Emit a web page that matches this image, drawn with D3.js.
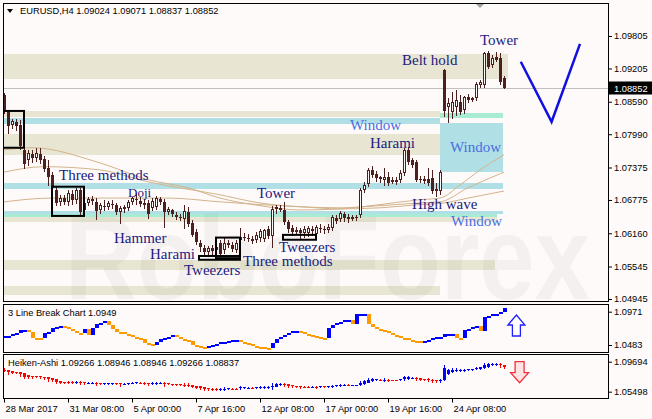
<!DOCTYPE html>
<html>
<head>
<meta charset="utf-8">
<script src="https://cdn.jsdelivr.net/npm/d3@7"></script>
<style>
html, body { margin: 0; padding: 0; background: #fffafa; }
svg { display: block; }
</style>
</head>
<body>
<svg id="chart" width="652" height="419"></svg>
<script>
// EURUSD H4, 28 Mar 2017 16:00 .. 26 Apr 2017 12:00
var opens = [1.0872,1.0840,1.0816,1.0822,1.0816,1.0770,1.0752,1.0763,1.0755,1.0763,
  1.0753,1.0737,1.0724,1.0696,1.0674,1.0681,1.0674,1.0689,1.0678,1.0696,
  1.0659,1.0672,1.0680,1.0674,1.0659,1.0667,1.0665,1.0670,1.0669,1.0656,
  1.0661,1.0663,1.0674,1.0680,1.0676,1.0670,1.0672,1.0663,1.0665,1.0680,
  1.0674,1.0656,1.0659,1.0650,1.0646,1.0643,1.0656,1.0635,1.0619,1.0598,
  1.0589,1.0582,1.0589,1.0585,1.0598,1.0585,1.0598,1.0595,1.0585,1.0604,
  1.0609,1.0608,1.0606,1.0604,1.0608,1.0606,1.0624,1.0611,1.0661,1.0663,
  1.0659,1.0637,1.0626,1.0621,1.0622,1.0617,1.0617,1.0624,1.0615,1.0626,
  1.0624,1.0622,1.0626,1.0645,1.0643,1.0652,1.0646,1.0645,1.0646,1.0650,
  1.0696,1.0707,1.0733,1.0726,1.0717,1.0715,1.0720,1.0713,1.0713,1.0715,
  1.0728,1.0770,1.0752,1.0748,1.0717,1.0715,1.0717,1.0718,1.0698,1.0694,
  1.0918,1.0849,1.0840,1.0849,1.0859,1.0844,1.0868,1.0862,1.0866,1.0890,
  1.0890,1.0949,1.0927,1.0942,1.0940,1.09024];
var highs = [1.0875,1.0842,1.0827,1.0827,1.0825,1.0774,1.0770,1.0770,1.0774,1.0774,
  1.0759,1.0752,1.0729,1.0702,1.0687,1.0687,1.0696,1.0696,1.0700,1.0700,
  1.0678,1.0683,1.0685,1.0681,1.0672,1.0678,1.0676,1.0678,1.0672,1.0667,
  1.0669,1.0678,1.0683,1.0689,1.0683,1.0680,1.0678,1.0681,1.0685,1.0683,
  1.0680,1.0665,1.0661,1.0656,1.0652,1.0669,1.0665,1.0641,1.0624,1.0604,
  1.0595,1.0593,1.0595,1.0597,1.0604,1.0609,1.0604,1.0600,1.0604,1.0626,
  1.0617,1.0615,1.0611,1.0619,1.0624,1.0624,1.0630,1.0667,1.0669,1.0669,
  1.0674,1.0641,1.0632,1.0628,1.0626,1.0630,1.0630,1.0630,1.0632,1.0633,
  1.0630,1.0633,1.0650,1.0650,1.0657,1.0656,1.0652,1.0650,1.0650,1.0700,
  1.0711,1.0737,1.0741,1.0731,1.0722,1.0737,1.0729,1.0720,1.0720,1.0733,
  1.0774,1.0776,1.0755,1.0752,1.0722,1.0722,1.0737,1.0733,1.0709,1.0733,
  1.0920,1.0866,1.0877,1.0881,1.0872,1.0870,1.0873,1.0868,1.0896,1.0899,
  1.0951,1.0953,1.0945,1.0951,1.0949,1.09071];
var lows = [1.0838,1.0801,1.0811,1.0807,1.0772,1.0737,1.0742,1.0748,1.0750,1.0746,
  1.0731,1.0705,1.0696,1.0669,1.0669,1.0670,1.0669,1.0670,1.0672,1.0652,
  1.0654,1.0669,1.0670,1.0643,1.0654,1.0659,1.0661,1.0663,1.0652,1.0635,
  1.0656,1.0659,1.0670,1.0670,1.0667,1.0663,1.0645,1.0659,1.0661,1.0670,
  1.0628,1.0652,1.0648,1.0643,1.0641,1.0626,1.0630,1.0611,1.0597,1.0584,
  1.0578,1.0574,1.0578,1.0576,1.0574,1.0580,1.0591,1.0584,1.0582,1.0600,
  1.0604,1.0602,1.0598,1.0600,1.0602,1.0602,1.0608,1.0591,1.0654,1.0657,
  1.0633,1.0619,1.0613,1.0615,1.0608,1.0609,1.0611,1.0613,1.0608,1.0619,
  1.0617,1.0619,1.0622,1.0635,1.0639,1.0639,1.0637,1.0641,1.0641,1.0646,
  1.0693,1.0704,1.0720,1.0713,1.0711,1.0705,1.0705,1.0709,1.0707,1.0711,
  1.0724,1.0744,1.0739,1.0713,1.0711,1.0709,1.0705,1.0691,1.0685,1.0689,
  1.0833,1.0822,1.0829,1.0835,1.0837,1.0838,1.0859,1.0861,1.0862,1.0886,
  1.0886,1.0921,1.0923,1.0934,1.0892,1.08837];
var closes = [1.0844,1.0814,1.0824,1.0814,1.0777,1.0744,1.0765,1.0755,1.0765,1.0752,
  1.0735,1.0720,1.0700,1.0672,1.0681,1.0674,1.0691,1.0678,1.0696,1.0656,
  1.0672,1.0680,1.0676,1.0657,1.0669,1.0665,1.0672,1.0669,1.0656,1.0663,
  1.0665,1.0674,1.0681,1.0680,1.0670,1.0672,1.0652,1.0676,1.0681,1.0674,
  1.0656,1.0661,1.0652,1.0646,1.0645,1.0657,1.0633,1.0613,1.0600,1.0591,
  1.0582,1.0589,1.0584,1.0591,1.0578,1.0598,1.0595,1.0587,1.0598,1.0609,
  1.0608,1.0606,1.0602,1.0613,1.0621,1.0622,1.0611,1.0661,1.0665,1.0659,
  1.0637,1.0624,1.0619,1.0622,1.0617,1.0624,1.0626,1.0621,1.0628,1.0624,
  1.0622,1.0628,1.0646,1.0639,1.0654,1.0645,1.0643,1.0646,1.0645,1.0696,
  1.0705,1.0733,1.0724,1.0718,1.0720,1.0720,1.0709,1.0715,1.0715,1.0728,
  1.0770,1.0748,1.0742,1.0715,1.0715,1.0717,1.0709,1.0694,1.0694,1.0729,
  1.0842,1.0857,1.0859,1.0862,1.0840,1.0868,1.0862,1.0866,1.0892,1.0896,
  1.0949,1.0923,1.0940,1.0936,1.0896,1.08852];

// moving averages, read at a few bars
var maFastBar = [0,7,24,36,46,54,64,74,84,94,104,109,114,119,125];
var maFast = [1.0770,1.0774,1.0746,1.0715,1.0700,1.0681,1.0667,1.0659,1.0661,1.0669,1.0678,1.0681,1.0705,1.0733,1.0761];
var maMidBar = [0,10,24,36,54,64,74,84,94,104,109,116,125];
var maMid = [1.0729,1.0739,1.0733,1.0711,1.0687,1.0672,1.0665,1.0663,1.0667,1.0672,1.0674,1.0700,1.0729];
var maSlowBar = [0,12,41,54,64,74,84,94,104,110,116,125];
var maSlow = [1.0674,1.0681,1.0681,1.0674,1.0669,1.0665,1.0661,1.0663,1.0669,1.0672,1.0681,1.0694];

// 3 Line Break levels and direction (1 up, -1 down)
var lbVal = [1.0615,1.0615,1.0644,1.0659,1.0703,1.0703,1.0674,1.0586,1.0586,1.0586,
  1.0659,1.0674,1.0732,1.0747,1.0761,1.0747,1.0717,1.0688,1.0659,1.0659,
  1.0717,1.0630,1.0732,1.0791,1.0805,1.0835,1.0776,1.0717,1.0674,1.0674,
  1.0644,1.0630,1.0600,1.0586,1.0571,1.0513,1.0498,1.0483,1.0527,1.0571,
  1.0586,1.0600,1.0630,1.0600,1.0571,1.0556,1.0542,1.0483,1.0469,1.0454,
  1.0439,1.0469,1.0483,1.0498,1.0527,1.0527,1.0542,1.0556,1.0556,1.0527,
  1.0513,1.0498,1.0469,1.0454,1.0454,1.0439,1.0439,1.0513,1.0571,1.0600,
  1.0630,1.0659,1.0688,1.0688,1.0674,1.0644,1.0630,1.0615,1.0600,1.0586,
  1.0586,1.0732,1.0776,1.0805,1.0820,1.0849,1.0849,1.0791,1.0937,1.0937,
  1.0937,1.0791,1.0747,1.0717,1.0703,1.0688,1.0659,1.0630,1.0615,1.0586,
  1.0586,1.0556,1.0542,1.0542,1.0527,1.0542,1.0556,1.0586,1.0600,1.0600,
  1.0644,1.0644,1.0644,1.0586,1.0586,1.0703,1.0717,1.0747,1.0761,1.0688,
  1.0893,1.0908,1.0937,1.0937,1.0967,1.1025];
var lbDir = [1,1,1,1,1,1,-1,-1,-1,-1, 1,1,1,1,1,-1,-1,-1,-1,-1,
  1,-1,1,1,1,1,-1,-1,-1,-1, -1,-1,-1,-1,-1,-1,-1,-1,1,1,
  1,1,1,-1,-1,-1,-1,-1,-1,-1, -1,1,1,1,1,1,1,1,1,-1,
  -1,-1,-1,-1,-1,-1,-1,1,1,1, 1,1,1,1,-1,-1,-1,-1,-1,-1,
  -1,1,1,1,1,1,1,-1,1,1, 1,-1,-1,-1,-1,-1,-1,-1,-1,-1,
  -1,-1,-1,-1,-1,1,1,1,1,1, 1,1,1,-1,-1,1,1,1,1,-1,
  1,1,1,1,1,1];

// zones: kind, from bar, to bar, upper price, lower price
var zones = [
  ['beige', -1, 126, 1.0947, 1.0901],
  ['beige', -1, 109, 1.0842, 1.0831],
  ['blue', -1, 109, 1.0829, 1.0818],
  ['mint', 109, 124.75, 1.0838, 1.0829],
  ['blue', 109, 124.75, 1.0820, 1.0729],
  ['beige', -1, 109, 1.0800, 1.0761],
  ['blue', -1, 124.75, 1.0709, 1.0698],
  ['blue', -1, 124.75, 1.0657, 1.0652],
  ['mint', -1, 123.25, 1.0652, 1.0646],
  ['beige', -1, 123.25, 1.0646, 1.0637],
  ['beige', -1, 122.75, 1.0567, 1.0549],
  ['beige', -1, 109, 1.0519, 1.0501]
];

// pattern boxes: from bar, to bar, upper, lower
var boxes = [
  [-0.25, 5, 1.0842, 1.0774],
  [12, 20, 1.0702, 1.0648],
  [53, 59, 1.0608, 1.0570],
  [48.75, 59, 1.0574, 1.0567],
  [69.75, 78, 1.0613, 1.0604]
];

var noteText = ['Three methods','Doji','Hammer','Harami','Tweezers','Three methods','Tweezers','Tower','Harami','Window','Window','High wave','Window','Belt hold','Tower'];
var noteBar = [13.75,31,27.5,36.5,45,59.75,68.75,63.25,91.5,86.5,111.5,102,111.75,99.5,119];
var notePrice = [1.0715,1.0683,1.0598,1.0569,1.0539,1.0556,1.0582,1.0681,1.0774,1.0807,1.0766,1.0661,1.0630,1.0927,1.0964];
var noteKind = ['p','p','p','p','p','p','p','p','p','w','w','p','w','p','p'];

// forecast
var fcBar = [129.2, 136.9, 144];
var fcPrice = [1.0933, 1.0822, 1.0966];

var priceTicks = [1.09805,1.09205,1.08590,1.07990,1.07375,1.06775,1.06160,1.05545,1.04945];
var lbTicks = [1.0971, 1.0483];
var haTicks = [1.09694, 1.05498];
var timeBars = [0,16,32,48,64,80,96,112];
var timeLabels = ['28 Mar 2017','31 Mar 08:00','5 Apr 00:00','7 Apr 16:00','12 Apr 08:00','17 Apr 00:00','19 Apr 16:00','24 Apr 08:00'];

var lastPrice = 1.08852;
var upSignal = {bar: 128.1, value: 1.0923};
var downSignal = {bar: 128.9, value: 1.09694};

// ---------------------------------------------------------------
var W = 652, H = 419;
var pane = {l: 3, r: 608, t: 3, b: 301};
var lbPane = {t: 304, b: 352};
var haPane = {t: 354, b: 398};
var font = "'Liberation Sans', Arial, sans-serif";
var candleColor = '#4d2020';
var zoneColor = {beige: '#e8e6d2', blue: '#b0e0e6', mint: '#a9ecd4'};

var bars = opens.map(function(o, i) {
  return {i: i, o: o, h: highs[i], l: lows[i], c: closes[i]};
});

// heiken ashi from the bars
var ha = [];
bars.forEach(function(d, i) {
  var c = (d.o + d.h + d.l + d.c) / 4;
  var o = i === 0 ? (d.o + d.c) / 2 : (ha[i-1].o + ha[i-1].c) / 2;
  ha.push({i: i, o: o, c: c, h: Math.max(d.h, o, c), l: Math.min(d.l, o, c)});
});

var x = d3.scaleLinear().domain([0, 151]).range([4, 608]);
var y = d3.scaleLinear().domain([1.04945, 1.09805]).range([299, 36]);
var yLb = d3.scaleLinear().domain([1.0483, 1.0971]).range([345, 311.7]);
var yHa = d3.scaleLinear().domain([1.05498, 1.09694]).range([391.7, 361.7]);

var svg = d3.select('#chart');
svg.append('rect').attr('width', W).attr('height', H).attr('fill', '#fffafa');

var defs = svg.append('defs');
defs.append('clipPath').attr('id', 'clipMain').append('rect')
  .attr('x', pane.l).attr('y', pane.t).attr('width', pane.r - pane.l).attr('height', pane.b - pane.t);
defs.append('clipPath').attr('id', 'clipLb').append('rect')
  .attr('x', pane.l).attr('y', lbPane.t).attr('width', pane.r - pane.l).attr('height', lbPane.b - lbPane.t);
defs.append('clipPath').attr('id', 'clipHa').append('rect')
  .attr('x', pane.l).attr('y', haPane.t).attr('width', pane.r - pane.l).attr('height', haPane.b - haPane.t);

var g = svg.append('g').attr('clip-path', 'url(#clipMain)');

// zones
g.selectAll('.zone').data(zones).join('rect')
  .attr('class', 'zone')
  .attr('x', function(d) { return x(d[1]); })
  .attr('width', function(d) { return x(d[2]) - x(d[1]); })
  .attr('y', function(d) { return Math.round(y(d[3])); })
  .attr('height', function(d) { return Math.max(1, Math.round(y(d[4])) - Math.round(y(d[3]))); })
  .attr('fill', function(d) { return zoneColor[d[0]]; });

// watermark
g.append('text')
  .attr('x', 65).attr('y', pane.b - 2)
  .attr('font-family', font).attr('font-weight', 'bold')
  .attr('font-size', 118)
  .attr('textLength', 525).attr('lengthAdjust', 'spacingAndGlyphs')
  .attr('fill', '#808080').attr('fill-opacity', 0.08)
  .text('RoboForex');

// last price line
var yLast = Math.round(y(lastPrice)) + 0.5;
g.append('line')
  .attr('x1', pane.l).attr('x2', pane.r).attr('y1', yLast).attr('y2', yLast)
  .attr('stroke', '#c0c0c0');

// moving averages
var maLine = d3.line().curve(d3.curveMonotoneX)
  .x(function(d) { return x(d[0]); })
  .y(function(d) { return y(d[1]); });
[[maFastBar, maFast], [maMidBar, maMid], [maSlowBar, maSlow]].forEach(function(m) {
  g.append('path')
    .datum(m[0].map(function(b, k) { return [b, m[1][k]]; }))
    .attr('d', maLine)
    .attr('fill', 'none').attr('stroke', '#d2b48c').attr('stroke-width', 1);
});

// candles
var candle = g.selectAll('.candle').data(bars).join('g').attr('class', 'candle');
candle.append('line')
  .attr('x1', function(d) { return Math.round(x(d.i)) + 0.5; })
  .attr('x2', function(d) { return Math.round(x(d.i)) + 0.5; })
  .attr('y1', function(d) { return Math.round(y(d.h)); })
  .attr('y2', function(d) { return Math.round(y(d.l)) + 1; })
  .attr('stroke', candleColor);
candle.append('rect')
  .attr('x', function(d) { return d.c > d.o ? Math.round(x(d.i)) - 0.5 : Math.round(x(d.i)) - 1; })
  .attr('width', function(d) { return d.c > d.o ? 2 : 3; })
  .attr('y', function(d) {
    return d.c > d.o ? Math.round(y(d.c)) + 0.5 : Math.round(y(d.o));
  })
  .attr('height', function(d) {
    var h = Math.round(y(Math.min(d.o, d.c))) - Math.round(y(Math.max(d.o, d.c)));
    return d.c > d.o ? Math.max(1, h - 1) : Math.max(1, h);
  })
  .attr('fill', function(d) { return d.c > d.o ? '#fffafa' : candleColor; })
  .attr('stroke', function(d) { return d.c > d.o ? candleColor : 'none'; });

// pattern boxes
g.selectAll('.box').data(boxes).join('rect')
  .attr('class', 'box')
  .attr('x', function(d) { return x(d[0]); })
  .attr('width', function(d) { return x(d[1]) - x(d[0]); })
  .attr('y', function(d) { return y(d[2]); })
  .attr('height', function(d) { return y(d[3]) - y(d[2]); })
  .attr('fill', 'none').attr('stroke', '#000').attr('stroke-width', 2);

// notes
g.selectAll('.note').data(noteText).join('text')
  .attr('class', 'note')
  .attr('x', function(d, i) { return x(noteBar[i]); })
  .attr('y', function(d, i) { return y(notePrice[i]); })
  .attr('font-family', "'Liberation Serif', 'Times New Roman', serif")
  .attr('font-size', function(d) { return d === 'Doji' ? 13 : 15; })
  .attr('fill', function(d, i) { return noteKind[i] === 'w' ? '#4a6ee0' : '#1a1a80'; })
  .text(function(d) { return d; });

// forecast V
g.append('path')
  .datum(fcBar.map(function(b, k) { return [b, fcPrice[k]]; }))
  .attr('d', d3.line().x(function(d) { return x(d[0]); }).y(function(d) { return y(d[1]); }))
  .attr('fill', 'none').attr('stroke', '#1010e0').attr('stroke-width', 2.5);

// chart shift marker
var sx = x(119);
svg.append('path')
  .attr('d', 'M' + (sx - 4) + ',' + (pane.t + 1) + 'L' + (sx + 4) + ',' + (pane.t + 1) + 'L' + sx + ',' + (pane.t + 5) + 'Z')
  .attr('fill', '#a0a0a0');

// header
svg.append('path').attr('d', 'M7,9L13,9L10,13Z').attr('fill', '#000');
svg.append('text').attr('x', 20).attr('y', 14)
  .attr('font-family', font).attr('font-size', 9.3).attr('fill', '#000')
  .text('EURUSD,H4  1.09024 1.09071 1.08837 1.08852');

// 3 line break pane
var gl = svg.append('g').attr('clip-path', 'url(#clipLb)');
gl.selectAll('rect').data(lbVal).join('rect')
  .attr('x', function(d, i) { return Math.round(x(i)) - 1; })
  .attr('width', 4)
  .attr('y', function(d, i) {
    var prev = i === 0 ? d : lbVal[i-1];
    return Math.round(Math.min(yLb(prev), yLb(d)));
  })
  .attr('height', function(d, i) {
    var prev = i === 0 ? d : lbVal[i-1];
    return Math.max(2, Math.round(Math.abs(yLb(prev) - yLb(d))));
  })
  .attr('fill', function(d, i) { return lbDir[i] > 0 ? '#0000ff' : '#ff9900'; });

var ux = x(upSignal.bar), uy = yLb(upSignal.value);
gl.append('path')
  .attr('d', 'M' + ux + ',' + uy + 'l8.5,10h-4.5v11h-8v-11h-4.5z')
  .attr('fill', '#fff').attr('stroke', '#2020ff').attr('stroke-width', 1.3);
svg.append('text').attr('x', 8).attr('y', 316)
  .attr('font-family', font).attr('font-size', 9.3).attr('fill', '#000')
  .text('3 Line Break Chart 1.0949');

// heiken ashi pane
var gh = svg.append('g').attr('clip-path', 'url(#clipHa)');
var hc = gh.selectAll('.ha').data(ha).join('g').attr('class', 'ha');
hc.append('line')
  .attr('x1', function(d) { return Math.round(x(d.i)) + 0.5; })
  .attr('x2', function(d) { return Math.round(x(d.i)) + 0.5; })
  .attr('y1', function(d) { return Math.round(yHa(d.h)); })
  .attr('y2', function(d) { return Math.round(yHa(d.l)) + 1; })
  .attr('stroke', function(d) { return d.c >= d.o ? '#0000ff' : '#ff0000'; });
hc.append('rect')
  .attr('x', function(d) { return Math.round(x(d.i)) - 1; })
  .attr('width', 3)
  .attr('y', function(d) { return Math.round(yHa(Math.max(d.o, d.c))); })
  .attr('height', function(d) { return Math.max(1, Math.round(Math.abs(yHa(d.o) - yHa(d.c)))); })
  .attr('fill', function(d) { return d.c >= d.o ? '#0000ff' : '#ff0000'; });

var dx = x(downSignal.bar), dy = yHa(downSignal.value);
gh.append('path')
  .attr('d', 'M' + (dx - 4.5) + ',' + dy + 'h9v11h4.5l-9,10l-9,-10h4.5z')
  .attr('fill', '#ffe4e4').attr('stroke', '#f03040').attr('stroke-width', 1.3);
svg.append('text').attr('x', 8).attr('y', 366)
  .attr('font-family', font).attr('font-size', 9.3).attr('fill', '#000')
  .text('Heiken-Ashi 1.09266 1.08946 1.08946 1.09266 1.08837');

// frames
[[pane.t, pane.b], [lbPane.t, lbPane.b], [haPane.t, haPane.b]].forEach(function(p) {
  svg.append('rect')
    .attr('x', pane.l + 0.5).attr('y', p[0] + 0.5)
    .attr('width', pane.r - pane.l).attr('height', p[1] - p[0])
    .attr('fill', 'none').attr('stroke', '#000');
});

// axes
function styleAxis(sel) {
  sel.select('.domain').remove();
  sel.selectAll('text').attr('font-family', font).attr('font-size', 9.3).attr('fill', '#000');
  sel.selectAll('line').attr('stroke', '#000');
}
svg.append('g').attr('transform', 'translate(' + pane.r + ',0)')
  .call(d3.axisRight(y).tickValues(priceTicks).tickFormat(d3.format('.5f')).tickSize(4).tickPadding(2))
  .call(styleAxis);
svg.append('g').attr('transform', 'translate(' + pane.r + ',0)')
  .call(d3.axisRight(yLb).tickValues(lbTicks).tickFormat(d3.format('.4f')).tickSize(4).tickPadding(2))
  .call(styleAxis);
svg.append('g').attr('transform', 'translate(' + pane.r + ',0)')
  .call(d3.axisRight(yHa).tickValues(haTicks).tickFormat(d3.format('.5f')).tickSize(4).tickPadding(2))
  .call(styleAxis);

var xAxis = svg.append('g').attr('transform', 'translate(0,' + (haPane.b + 0.5) + ')')
  .call(d3.axisBottom(x).tickValues(timeBars)
    .tickFormat(function(d, i) { return timeLabels[i]; }).tickSize(4).tickPadding(3))
  .call(styleAxis);
xAxis.selectAll('text').attr('text-anchor', 'start').attr('dx', 1);

// last price tag
svg.append('rect').attr('x', pane.r).attr('y', yLast - 7).attr('width', W - pane.r).attr('height', 13).attr('fill', '#000');
svg.append('text').attr('x', pane.r + 6).attr('y', yLast + 3.5)
  .attr('font-family', font).attr('font-size', 9.3).attr('fill', '#fff')
  .text(d3.format('.5f')(lastPrice));
</script>
</body>
</html>
